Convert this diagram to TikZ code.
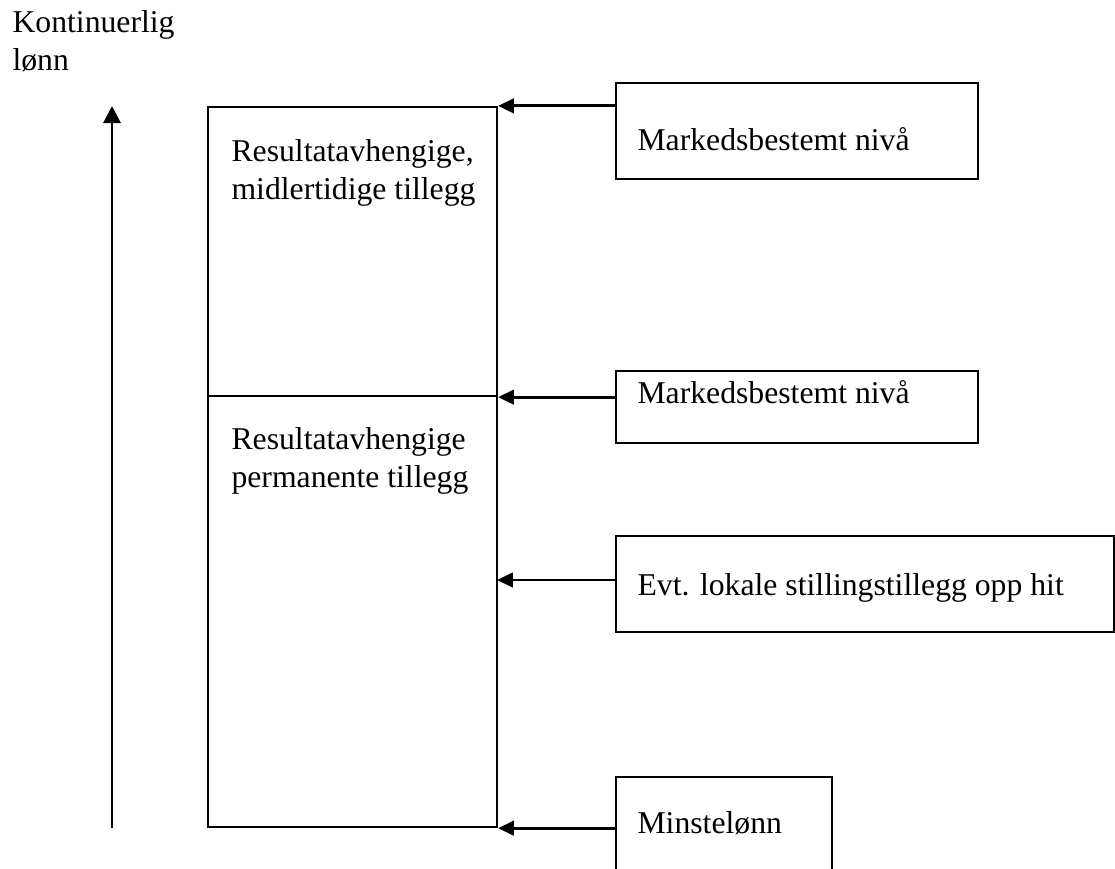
\documentclass[tikz,border=0pt]{standalone}
\usepackage{fontspec}
\setmainfont{Liberation Serif}
\usetikzlibrary{arrows.meta,fit}
\begin{document}
\begin{tikzpicture}[x=0.3785pt,y=-0.3785pt,
  box/.style={draw, line width=0.85pt, inner sep=0pt},
  lbl/.style={anchor=base west, inner sep=0pt, align=left, font=\fontsize{12}{14.2}\selectfont},
  feed/.style={line width=1.1pt, -{Triangle[length=6pt,width=5.5pt]}},
  rise/.style={line width=1.1pt, -{Triangle[length=6.5pt,width=6.5pt]}}]
\clip (0,0) rectangle (1115,868);

% stacked salary column
\node[box, fit={(208,107) (497,396)}] (upper) {};
\node[box, fit={(208,396) (497,827)}] (lower) {};

% level boxes on the right
\node[box, fit={(616,83) (978,179)}] (m1) {};
\node[box, fit={(616,371) (978,443)}] (m2) {};
\node[box, fit={(616,536) (1114,632)}] (m3) {};
\node[box, fit={(616,777) (832,880)}] (m4) {};

% texts (multi-line nodes are anchored on their last baseline)
\node[lbl] (ylabel) at (12,70) {Kontinuerlig\\lønn};
\node[lbl] (t1) at (231,199) {Resultatavhengige,\\midlertidige tillegg};
\node[lbl] (t2) at (231,487) {Resultatavhengige\\permanente tillegg};
\node[lbl] (m1t) at (637,150) {Markedsbestemt nivå};
\node[lbl] (m2t) at (637,403) {Markedsbestemt nivå};
\node[lbl] (m3t) at (637,595) {Evt. lokale stillingstillegg opp hit};
\node[lbl] (m4t) at (637,833) {Minstelønn};

% vertical axis arrow
\coordinate (axisfoot) at (112,828);
\coordinate (axistop) at (112,106);
\draw[rise] (axisfoot) -- (axistop);

% arrows pointing at the column
\coordinate (hit) at (497,580);
\draw[feed] (upper.north east -| m1.west) -- (upper.north east);
\draw[feed] (upper.south east -| m2.west) -- (upper.south east);
\draw[feed] (hit -| m3.west) -- (hit);
\draw[feed] (lower.south east -| m4.west) -- (lower.south east);
\end{tikzpicture}
\end{document}
